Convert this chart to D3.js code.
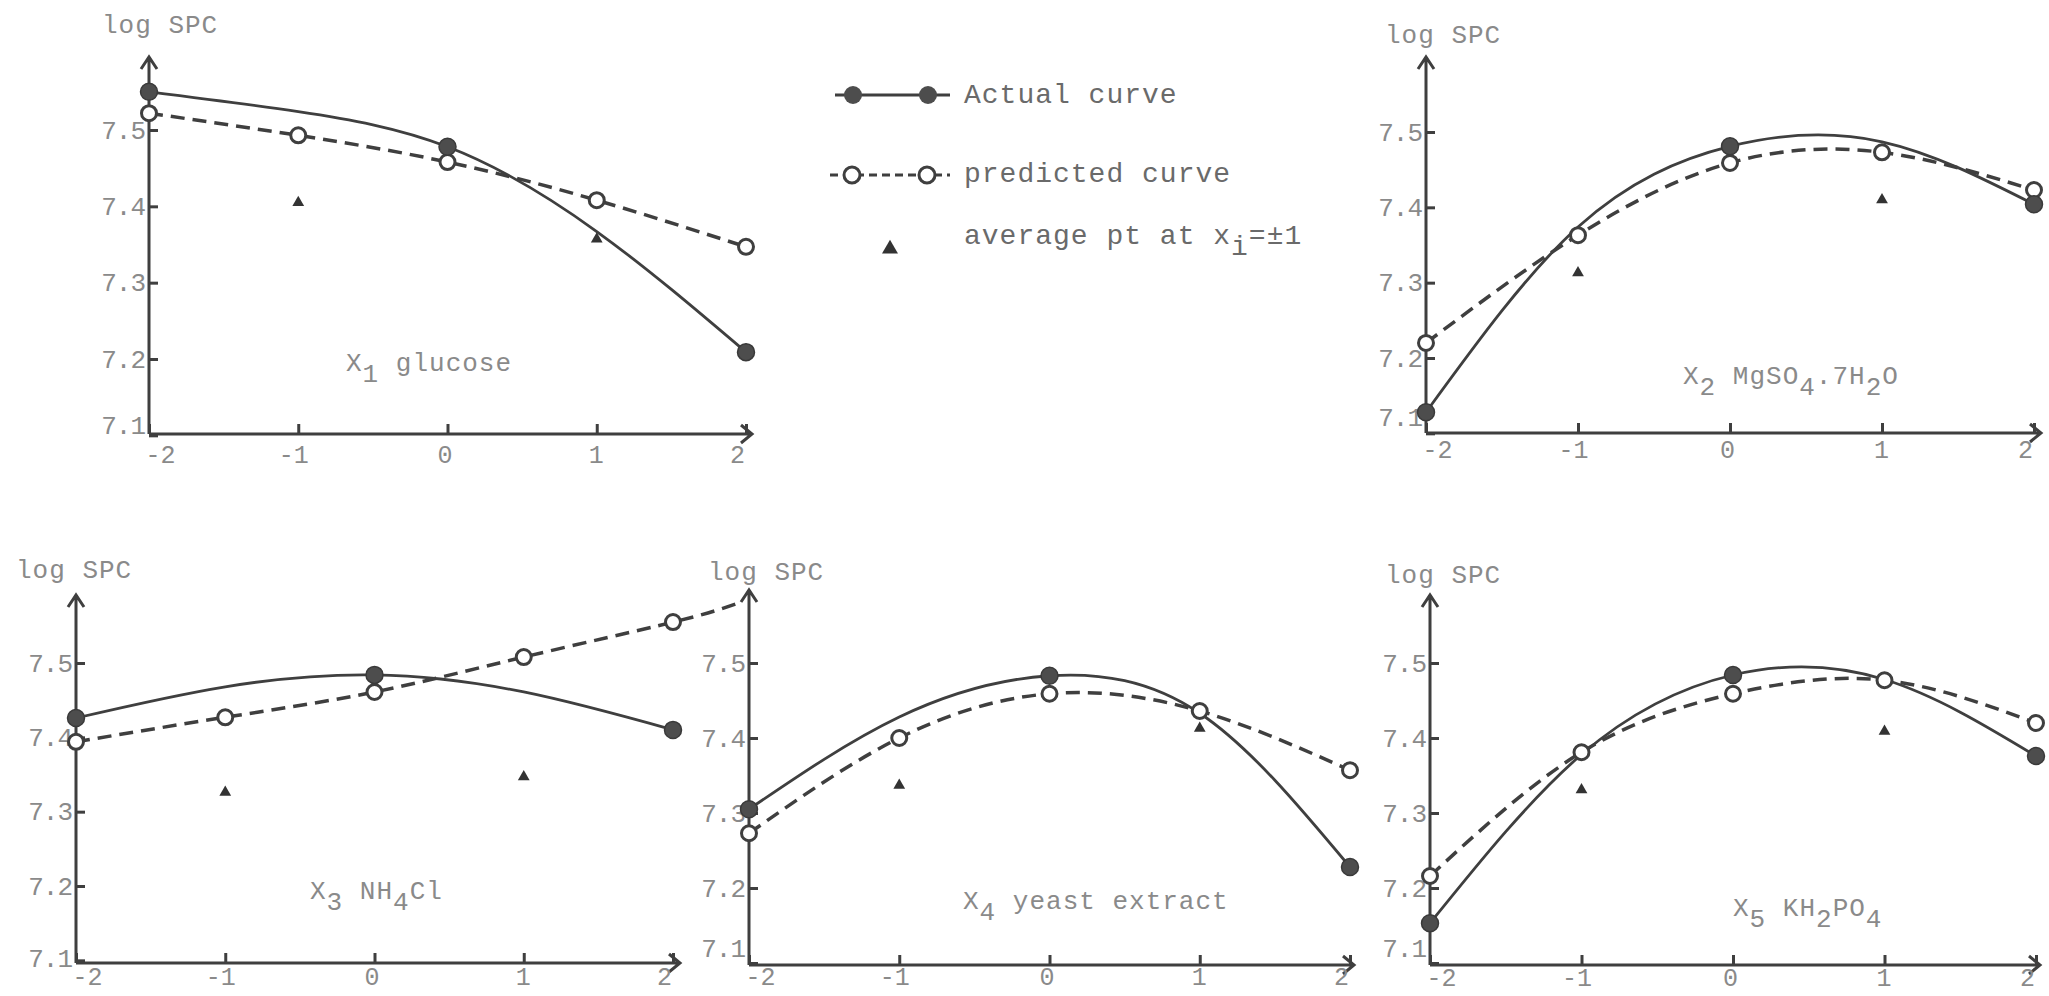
<!DOCTYPE html>
<html>
<head>
<meta charset="utf-8">
<title>log SPC response curves</title>
<script src="https://d3js.org/d3.v7.min.js"></script>
<style>
  body { margin: 0; background: #fff; }
  text { font-family: "Liberation Mono", "DejaVu Sans Mono", monospace; }
</style>
</head>
<body>
<svg id="chart" width="2049" height="996"></svg>
<script>
// ---- data ----
const xLevels = [-2, -1, 0, 1, 2];
const xTickLabels = ["-2", "-1", "0", "1", "2"];
const yTickValues = [7.1, 7.2, 7.3, 7.4, 7.5];
const dotLevels = [-2, 0, 2];      // filled dots sit on the actual curve here
const averageLevels = [-1, 1];     // triangles

// actual curve (solid), value of the curve at each x level
const actualX1 = [7.550, 7.524, 7.478, 7.367, 7.209];
const actualX2 = [7.128, 7.374, 7.481, 7.487, 7.404];
const actualX3 = [7.426, 7.468, 7.484, 7.461, 7.410];
const actualX4 = [7.305, 7.428, 7.483, 7.433, 7.228];
const actualX5 = [7.153, 7.378, 7.484, 7.478, 7.376];

// predicted curve (dashed, open circles)
const predictedX1 = [7.522, 7.493, 7.458, 7.408, 7.347];
const predictedX2 = [7.220, 7.363, 7.459, 7.473, 7.423];
const predictedX3 = [7.394, 7.427, 7.461, 7.508, 7.555];
const predictedX4 = [7.273, 7.400, 7.459, 7.436, 7.357];
const predictedX5 = [7.216, 7.381, 7.459, 7.477, 7.420];
// the X3 dashed line runs on past x = 2
const tailX3 = [2.43, 7.580];

// average point at x_i = -1, +1
const averageX1 = [7.405, 7.357];
const averageX2 = [7.313, 7.410];
const averageX3 = [7.326, 7.347];
const averageX4 = [7.337, 7.413];
const averageX5 = [7.331, 7.409];

// panel captions: [text, subscript?]
const captionX1 = [["X", 0], ["1", 1], [" glucose", 0]];
const captionX2 = [["X", 0], ["2", 1], [" MgSO", 0], ["4", 1], [".7H", 0], ["2", 1], ["O", 0]];
const captionX3 = [["X", 0], ["3", 1], [" NH", 0], ["4", 1], ["Cl", 0]];
const captionX4 = [["X", 0], ["4", 1], [" yeast extract", 0]];
const captionX5 = [["X", 0], ["5", 1], [" KH", 0], ["2", 1], ["PO", 0], ["4", 1]];

// ---- layout of the five small plots (pixels) ----
const xLabelShift = [11, -5, -3, -1, -9];   // typed labels sit a little off the ticks
const panels = [
  { actual: actualX1, pred: predictedX1, avg: averageX1, cap: captionX1,
    x0: 149, x2: 746, arrowX: 752, axisY: 434, y75: 130, y72: 359, topY: 57,
    xPad: 11, low: -10, titleX: 102, titleY: 33, capX: 346, capY: 371 },
  { actual: actualX2, pred: predictedX2, avg: averageX2, cap: captionX2,
    x0: 1426, x2: 2034, arrowX: 2041, axisY: 433, y75: 132, y72: 358, topY: 57,
    xPad: 7, low: -16, titleX: 1385, titleY: 43, capX: 1683, capY: 384 },
  { actual: actualX3, pred: predictedX3, avg: averageX3, cap: captionX3, tail: tailX3,
    x0: 76, x2: 673, arrowX: 680, axisY: 963, y75: 663, y72: 886, topY: 595,
    xPad: 4, low: -2, titleX: 16, titleY: 578, capX: 310, capY: 899 },
  { actual: actualX4, pred: predictedX4, avg: averageX4, cap: captionX4,
    x0: 749, x2: 1350, arrowX: 1354, axisY: 965, y75: 663, y72: 888, topY: 590,
    xPad: 2, low: -15, titleX: 708, titleY: 580, capX: 963, capY: 909 },
  { actual: actualX5, pred: predictedX5, avg: averageX5, cap: captionX5,
    x0: 1430, x2: 2036, arrowX: 2040, axisY: 965, y75: 663, y72: 888, topY: 595,
    xPad: 3, low: -15, titleX: 1385, titleY: 583, capX: 1733, capY: 916 }
];

const ink = "#3f3f3f";
const typeGrey = "#8a8a8a";

let svg = d3.select("svg#chart");
svg.append("rect").attr("width", 2049).attr("height", 996).attr("fill", "#fff");

function caption(sel, parts) {
  parts.forEach(([t, sub], i) => {
    const prevSub = i > 0 && parts[i - 1][1];
    let dy = 0;
    if (sub && !prevSub) dy = 11;
    if (!sub && prevSub) dy = -11;
    sel.append("tspan").attr("dy", dy).text(t);
  });
}

panels.forEach(p => {
  const g = svg.append("g");
  const x = d3.scaleLinear().domain([-2, 2]).range([p.x0, p.x2]);
  const y = d3.scaleLinear().domain([7.2, 7.5]).range([p.y72, p.y75]);

  // axis lines with open arrow heads
  g.append("path")
    .attr("d", `M${p.x0},${p.axisY}V${p.topY} M${p.x0 - 8},${p.topY + 12}L${p.x0},${p.topY}L${p.x0 + 8},${p.topY + 12}`)
    .attr("fill", "none").attr("stroke", ink).attr("stroke-width", 3);
  g.append("path")
    .attr("d", `M${p.x0},${p.axisY}H${p.arrowX} M${p.arrowX - 11},${p.axisY - 9}L${p.arrowX},${p.axisY}L${p.arrowX - 11},${p.axisY + 9}`)
    .attr("fill", "none").attr("stroke", ink).attr("stroke-width", 3);

  // y ticks point inward
  let left = d3.axisLeft(y).tickValues(yTickValues).tickSize(-9).tickPadding(4)
    .tickFormat(d3.format(".1f"));
  g.append("g").attr("transform", `translate(${p.x0},0)`).call(left)
    .call(a => a.select(".domain").remove())
    .call(a => a.selectAll("line").attr("stroke", ink).attr("stroke-width", 3))
    .call(a => a.selectAll("text").attr("fill", typeGrey).style("font-size", "26px")
      .style("letter-spacing", "-1px").style("font-family", null))
    .call(a => a.selectAll(".tick").filter(d => d === 7.1).select("text").attr("y", p.low));

  let bottom = d3.axisBottom(x).tickValues(xLevels).tickSize(-10).tickPadding(p.xPad)
    .tickFormat((d, i) => xTickLabels[i]);
  g.append("g").attr("transform", `translate(0,${p.axisY})`).call(bottom)
    .call(a => a.select(".domain").remove())
    .call(a => a.selectAll("line").attr("stroke", ink).attr("stroke-width", 3))
    .call(a => a.selectAll("text").attr("fill", typeGrey).attr("dx", (d, i) => xLabelShift[i])
      .style("font-size", "25px").style("font-family", null));

  // titles
  g.append("text").attr("x", p.titleX).attr("y", p.titleY)
    .attr("fill", typeGrey).style("font-size", "26px").style("letter-spacing", "1px")
    .text("log SPC");
  caption(g.append("text").attr("x", p.capX).attr("y", p.capY)
    .attr("fill", typeGrey).style("font-size", "26px").style("letter-spacing", "1px"), p.cap);

  const line = d3.line().x(d => x(d[0])).y(d => y(d[1])).curve(d3.curveNatural);

  // predicted (dashed)
  let predPts = xLevels.map((l, i) => [l, p.pred[i]]);
  if (p.tail) predPts.push(p.tail);
  g.append("path").attr("d", line(predPts))
    .attr("fill", "none").attr("stroke", ink).attr("stroke-width", 3.5)
    .attr("stroke-dasharray", "14,8");

  // actual (solid)
  g.append("path").attr("d", line(xLevels.map((l, i) => [l, p.actual[i]])))
    .attr("fill", "none").attr("stroke", ink).attr("stroke-width", 2.8);

  // triangles
  g.selectAll("path.avg").data(averageLevels).join("path").attr("class", "avg")
    .attr("d", d3.symbol().type(d3.symbolTriangle).size(60))
    .attr("transform", (d, i) => `translate(${x(d)},${y(p.avg[i])})`)
    .attr("fill", "#333");

  // open circles
  g.selectAll("circle.pred").data(xLevels).join("circle").attr("class", "pred")
    .attr("cx", d => x(d)).attr("cy", (d, i) => y(p.pred[i])).attr("r", 7.5)
    .attr("fill", "#fff").attr("stroke", ink).attr("stroke-width", 3);

  // filled dots
  g.selectAll("circle.act").data(dotLevels).join("circle").attr("class", "act")
    .attr("cx", d => x(d)).attr("cy", d => y(p.actual[xLevels.indexOf(d)])).attr("r", 8.5)
    .attr("fill", "#4d4d4d").attr("stroke", "#3a3a3a").attr("stroke-width", 1.5);
});

// ---- legend ----
const leg = svg.append("g");
const legText = "#6a6a6a";
leg.append("line").attr("x1", 835).attr("x2", 950).attr("y1", 95).attr("y2", 95)
  .attr("stroke", ink).attr("stroke-width", 3);
[853, 928].forEach(cx => leg.append("circle").attr("cx", cx).attr("cy", 95).attr("r", 9)
  .attr("fill", "#4d4d4d"));
leg.append("line").attr("x1", 830).attr("x2", 950).attr("y1", 175).attr("y2", 175)
  .attr("stroke", ink).attr("stroke-width", 3).attr("stroke-dasharray", "8,5");
[852, 927].forEach(cx => leg.append("circle").attr("cx", cx).attr("cy", 175).attr("r", 8)
  .attr("fill", "#fff").attr("stroke", ink).attr("stroke-width", 3));
leg.append("path").attr("d", d3.symbol().type(d3.symbolTriangle).size(110))
  .attr("transform", "translate(890,249)").attr("fill", "#333");

const legStyle = t => t.attr("fill", legText).style("font-size", "28px").style("letter-spacing", "1px");
leg.append("text").attr("x", 964).attr("y", 103).call(legStyle).text("Actual curve");
leg.append("text").attr("x", 964).attr("y", 182).call(legStyle).text("predicted curve");
caption(leg.append("text").attr("x", 964).attr("y", 244).call(legStyle),
  [["average pt at x", 0], ["i", 1], ["=±1", 0]]);
</script>
</body>
</html>
